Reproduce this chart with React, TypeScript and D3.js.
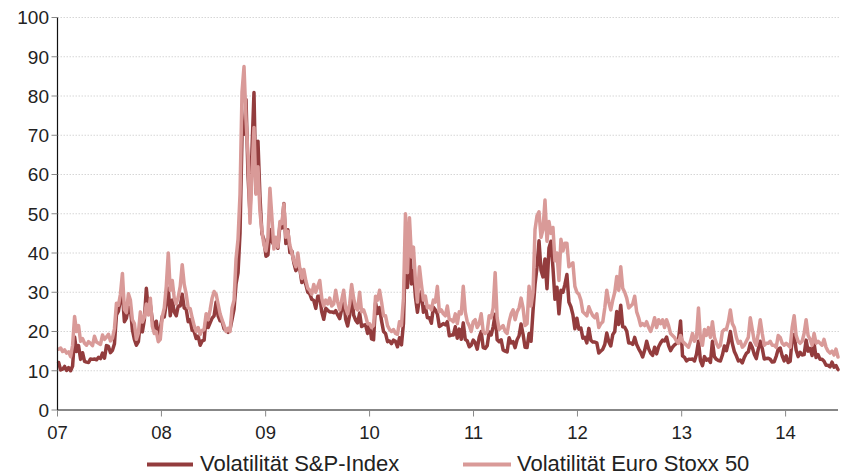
import React from 'react';
import * as d3 from 'd3';

// Weekly closes (Fridays) of the implied-volatility indices, 2007 to mid-2014
const vix2007 = [12.1, 10.2, 10.4, 11.1, 10.1, 10.8, 10.0, 11.2, 18.6, 14.9, 16.4, 12.9, 14.6, 12.4, 12.2, 12.1, 13.0, 12.9, 13.0, 12.8, 13.4, 13.1, 14.5, 13.2, 16.4, 16.2, 14.6, 15.2, 16.9, 24.2, 25.2, 28.2, 29.5, 22.5, 23.4, 26.2, 26.0, 20.4, 18.0, 16.5, 17.4, 22.4, 19.9, 23.0, 31.0, 25.5, 26.8, 22.9, 20.9, 22.6, 18.5, 20.7];
const vix2008 = [23.9, 23.7, 27.2, 31.0, 24.0, 28.0, 25.0, 24.0, 26.5, 26.5, 29.5, 26.0, 25.7, 22.5, 23.0, 20.3, 20.0, 18.2, 18.8, 16.5, 17.6, 17.8, 23.6, 21.0, 22.2, 23.4, 24.0, 27.5, 24.0, 22.7, 22.6, 20.7, 20.3, 19.8, 20.6, 23.1, 25.7, 32.1, 35.0, 45.1, 69.9, 70.3, 79.1, 59.9, 50.0, 66.3, 80.9, 55.3, 68.5, 54.3, 44.9, 43.4];
const vix2009 = [39.2, 39.5, 46.0, 43.0, 42.0, 43.4, 41.2, 47.0, 46.4, 52.6, 42.4, 45.9, 40.1, 40.5, 37.5, 35.5, 36.5, 36.0, 32.5, 33.5, 32.0, 30.0, 29.6, 28.2, 27.9, 25.9, 29.0, 29.0, 25.0, 23.1, 25.9, 25.4, 25.0, 25.0, 24.8, 25.3, 24.2, 23.3, 25.6, 28.7, 23.1, 21.4, 24.2, 30.7, 24.2, 22.9, 22.2, 24.7, 21.3, 21.6, 21.7, 19.5];
const vix2010 = [21.7, 18.1, 17.9, 27.3, 24.6, 26.1, 22.7, 20.0, 19.5, 17.4, 17.6, 16.9, 17.8, 17.5, 16.1, 18.4, 16.6, 22.1, 40.9, 31.2, 45.8, 32.1, 35.5, 28.8, 24.9, 28.5, 30.1, 24.9, 26.3, 23.5, 23.5, 22.1, 26.2, 25.5, 24.5, 21.3, 21.6, 22.0, 21.7, 22.5, 18.9, 19.1, 19.1, 21.2, 18.3, 20.6, 18.0, 22.2, 18.0, 17.6, 16.1, 16.5, 17.8];
const vix2011 = [17.1, 15.5, 18.5, 20.0, 15.9, 15.7, 16.4, 19.9, 19.1, 21.2, 24.4, 17.9, 17.4, 17.9, 15.3, 15.0, 14.8, 18.4, 17.1, 17.4, 15.9, 17.9, 18.9, 21.9, 19.3, 16.0, 15.9, 19.5, 17.5, 25.3, 32.0, 36.4, 43.1, 35.6, 33.9, 38.5, 30.9, 41.3, 43.0, 36.2, 28.2, 31.3, 24.5, 30.5, 30.0, 32.0, 34.5, 27.5, 26.3, 24.3, 20.7, 23.4];
const vix2012 = [20.6, 20.9, 18.3, 18.5, 17.1, 20.8, 17.8, 17.3, 17.3, 17.1, 14.5, 15.0, 15.5, 16.7, 19.6, 17.4, 16.3, 19.2, 20.0, 25.1, 21.8, 26.7, 21.2, 21.1, 20.1, 17.1, 17.1, 16.7, 18.5, 16.7, 15.6, 14.7, 13.5, 15.2, 17.5, 15.6, 14.5, 13.9, 16.0, 14.3, 16.1, 17.1, 17.8, 17.6, 18.6, 16.4, 15.1, 16.0, 16.6, 17.0, 18.0, 22.7];
const vix2013 = [13.8, 13.4, 12.5, 12.9, 12.9, 13.0, 12.5, 14.2, 17.5, 12.6, 11.3, 13.6, 12.7, 13.0, 12.1, 17.5, 13.6, 12.9, 12.6, 12.5, 14.0, 16.3, 15.1, 17.2, 20.0, 16.9, 14.9, 13.8, 12.5, 12.7, 12.0, 13.4, 14.4, 14.8, 17.0, 15.9, 14.2, 13.1, 15.5, 17.5, 15.7, 13.0, 13.1, 13.2, 12.9, 12.2, 12.3, 13.7, 15.5, 15.8, 13.8, 12.5];
const vix2014 = [13.8, 12.1, 12.4, 18.1, 19.2, 15.3, 13.6, 14.7, 14.0, 14.1, 17.8, 15.0, 15.7, 13.9, 17.0, 13.4, 14.1, 12.9, 12.9, 12.4, 11.4, 11.4, 11.0, 12.2, 10.9, 11.3, 10.3];

const vstoxx2007 = [15.5, 15.8, 14.9, 15.3, 14.5, 14.8, 13.6, 16.5, 23.8, 20.0, 21.5, 17.5, 18.2, 17.0, 16.5, 17.4, 17.0, 16.4, 18.8, 17.3, 17.0, 16.7, 19.1, 18.0, 18.6, 19.3, 17.6, 18.3, 20.7, 27.2, 26.7, 29.5, 34.8, 25.6, 24.8, 29.6, 28.0, 23.0, 22.0, 18.0, 19.6, 25.0, 22.4, 23.6, 27.0, 24.2, 28.5, 21.3, 19.5, 19.9, 17.4, 18.0];
const vstoxx2008 = [23.8, 26.0, 31.5, 40.0, 30.5, 33.0, 28.5, 27.0, 28.8, 31.5, 37.0, 32.0, 29.5, 26.0, 25.8, 23.5, 21.5, 20.0, 21.0, 19.2, 20.3, 20.5, 24.5, 23.0, 25.5, 28.5, 30.2, 29.5, 27.0, 24.5, 23.0, 21.5, 20.0, 20.8, 20.0, 26.0, 28.0, 38.5, 43.5, 55.0, 81.0, 87.5, 74.0, 65.0, 47.6, 60.0, 72.0, 55.0, 62.0, 50.5, 45.5, 42.0];
const vstoxx2009 = [40.5, 44.0, 56.5, 49.0, 41.0, 44.0, 41.5, 48.0, 47.5, 52.5, 44.0, 45.5, 42.0, 40.0, 38.0, 36.5, 40.0, 36.0, 33.5, 35.8, 33.0, 31.0, 30.5, 29.5, 32.0, 30.0, 31.5, 33.0, 28.5, 26.5, 28.0, 27.0, 28.5, 26.5, 27.0, 30.5, 27.5, 25.5, 28.0, 30.5, 26.0, 24.5, 27.0, 32.0, 28.5, 26.0, 25.5, 30.0, 25.0, 25.5, 24.0, 22.0];
const vstoxx2010 = [22.0, 21.0, 21.5, 29.0, 28.0, 30.5, 27.5, 24.0, 24.0, 21.5, 20.5, 20.0, 20.5, 19.5, 19.3, 22.5, 21.5, 28.5, 50.0, 35.0, 49.0, 39.0, 41.5, 33.0, 27.5, 36.5, 32.0, 28.0, 29.0, 26.0, 26.5, 25.5, 28.0, 27.5, 31.5, 25.0, 25.5, 24.5, 24.0, 26.5, 23.0, 23.0, 22.5, 24.5, 22.0, 25.0, 24.5, 31.5, 25.0, 22.5, 21.5, 20.0, 22.5];
const vstoxx2011 = [23.0, 21.0, 22.0, 24.5, 20.0, 19.5, 20.0, 24.0, 23.5, 26.0, 35.0, 23.5, 20.5, 21.0, 21.5, 20.0, 19.5, 22.5, 24.5, 25.5, 23.0, 25.0, 26.0, 28.5, 26.0, 21.5, 22.0, 31.5, 26.5, 30.0, 46.0, 49.5, 50.5, 44.0, 46.0, 53.5, 43.0, 48.0, 45.0, 46.5, 38.0, 40.0, 33.0, 43.5, 40.5, 42.5, 42.5, 36.5, 37.0, 37.5, 31.5, 30.0];
const vstoxx2012 = [29.5, 28.0, 25.0, 24.5, 24.0, 26.3, 25.0, 24.0, 23.5, 24.5, 21.0, 22.0, 22.5, 26.0, 30.5, 27.5, 25.5, 28.0, 30.0, 34.0, 30.5, 36.5, 31.0, 30.0, 28.5, 26.0, 26.5, 27.0, 29.0, 25.0, 23.5, 21.5, 22.0, 21.5, 22.5, 21.0, 20.0, 21.5, 23.5, 21.0, 23.0, 22.0, 23.0, 21.0, 23.0, 21.5, 19.5, 19.0, 18.5, 17.5, 17.0, 19.0];
const vstoxx2013 = [17.5, 17.0, 16.5, 16.0, 17.5, 19.5, 17.5, 18.5, 26.0, 18.0, 16.5, 20.5, 19.0, 21.0, 18.5, 22.5, 18.5, 17.0, 16.0, 16.5, 20.0, 20.5, 20.5, 22.5, 25.5, 22.0, 21.0, 18.5, 17.0, 17.5, 16.0, 16.5, 17.5, 18.5, 23.5, 20.5, 17.5, 16.5, 19.5, 23.0, 19.5, 16.5, 17.0, 17.0, 17.5, 16.5, 16.5, 16.0, 19.0, 18.5, 17.0, 16.5];
const vstoxx2014 = [17.0, 16.5, 16.0, 21.0, 24.0, 19.0, 17.5, 17.0, 17.5, 19.5, 23.0, 19.0, 18.0, 16.5, 19.5, 17.0, 17.5, 17.0, 16.5, 18.0, 16.0, 15.0, 14.5, 15.0, 14.0, 15.5, 13.5];

const yTicks = [0, 10, 20, 30, 40, 50, 60, 70, 80, 90, 100];
const xTickYears = [2007, 2008, 2009, 2010, 2011, 2012, 2013, 2014];

const seriesNames = ['Volatilität S&P-Index', 'Volatilität Euro Stoxx 50'];
const seriesColors = ['#933c3d', '#d99a98'];

const firstFriday = new Date(2007, 0, 5);
const lastDay = new Date(2014, 6, 4);

const W = 850;
const H = 476;
const FONT = '"Liberation Sans", Arial, Helvetica, sans-serif';

export default function App() {
  const vix = [...vix2007, ...vix2008, ...vix2009, ...vix2010, ...vix2011, ...vix2012, ...vix2013, ...vix2014];
  const vstoxx = [...vstoxx2007, ...vstoxx2008, ...vstoxx2009, ...vstoxx2010, ...vstoxx2011, ...vstoxx2012, ...vstoxx2013, ...vstoxx2014];
  const dates = vix.map((_, i) => d3.timeDay.offset(firstFriday, 7 * i));

  const x = d3.scaleTime().domain([new Date(2007, 0, 1), lastDay]).range([57.5, 838]);
  const y = d3.scaleLinear().domain([0, 100]).range([410, 17.5]);

  const line = d3
    .line<number>()
    .x((_, i) => x(dates[i]))
    .y((d) => y(d));

  const series = [vix, vstoxx];

  return (
    <svg
      width={W}
      height={H}
      style={{ position: 'absolute', left: 0, top: 0, background: '#fff' }}
      fontFamily={FONT}
    >
      {/* horizontal grid */}
      {yTicks.slice(1).map((t) => (
        <line
          key={`g${t}`}
          x1={57.5}
          x2={840}
          y1={y(t)}
          y2={y(t)}
          stroke="#d6d6d6"
          strokeWidth={1}
          strokeDasharray="1.5,1.5"
        />
      ))}

      {/* data lines */}
      {series.map((s, k) => (
        <path
          key={`s${k}`}
          d={line(s) || ''}
          fill="none"
          stroke={seriesColors[k]}
          strokeWidth={3.5}
          strokeLinejoin="round"
          strokeLinecap="round"
        />
      ))}

      {/* y axis */}
      <line x1={57.5} x2={57.5} y1={17.5} y2={410} stroke="#111" strokeWidth={1.2} />
      {yTicks.map((t) => (
        <g key={`y${t}`}>
          <line x1={51.5} x2={57.5} y1={y(t)} y2={y(t)} stroke="#888" strokeWidth={1} />
          <text
            x={49}
            y={y(t)}
            dy="0.36em"
            textAnchor="end"
            fontSize={19}
            fill="#222"
          >
            {t}
          </text>
        </g>
      ))}

      {/* x axis */}
      <line x1={57} x2={838} y1={410} y2={410} stroke="#111" strokeWidth={1.2} />
      {xTickYears.map((yr) => {
        const xp = x(new Date(yr, 0, 1));
        return (
          <g key={`x${yr}`}>
            <line x1={xp} x2={xp} y1={410} y2={416.5} stroke="#888" strokeWidth={1} />
            <text x={xp} y={439} textAnchor="middle" fontSize={18.5} fill="#222">
              {d3.timeFormat('%y')(new Date(yr, 0, 1))}
            </text>
          </g>
        );
      })}

      {/* legend */}
      <line x1={147} x2={193} y1={464.5} y2={464.5} stroke={seriesColors[0]} strokeWidth={4} />
      <text x={200} y={470.5} fontSize={22} fill="#222">
        {seriesNames[0]}
      </text>
      <line x1={463} x2={511} y1={464.5} y2={464.5} stroke={seriesColors[1]} strokeWidth={4} />
      <text x={517} y={470.5} fontSize={22} fill="#222">
        {seriesNames[1]}
      </text>
    </svg>
  );
}
